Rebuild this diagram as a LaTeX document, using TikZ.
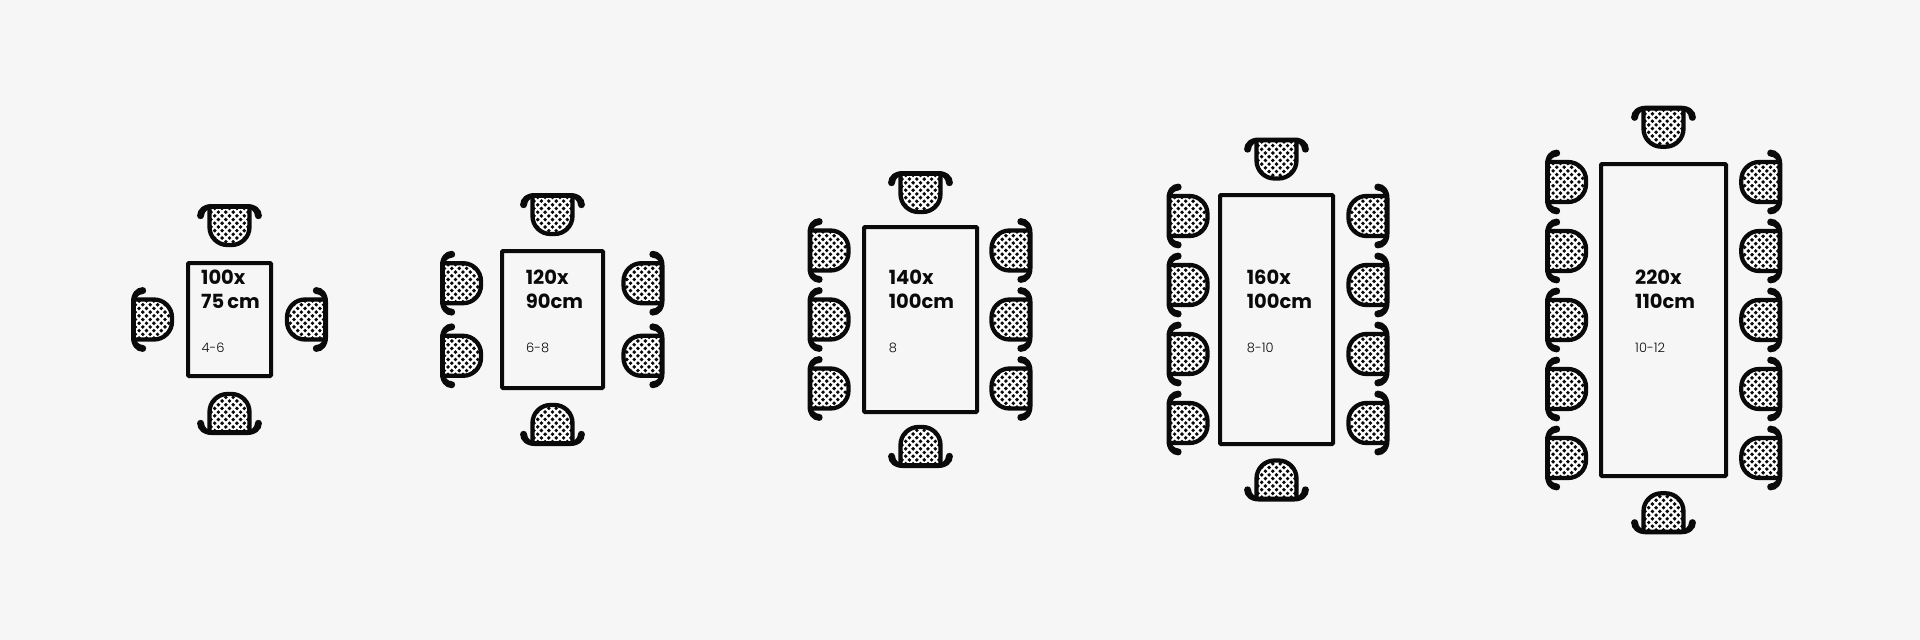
\documentclass[tikz,border=0pt]{standalone}
\usepackage{fontspec}
\setmainfont{Poppins}[WordSpace=0.75]
\newfontfamily\lightface{Poppins Light}
\definecolor{bgc}{HTML}{F6F6F6}
\definecolor{ink}{HTML}{0A0A0A}
\tikzset{
  x=1pt,y=-1pt,
  tablebox/.style={draw=ink,line width=4pt,rounded corners=1pt,inner sep=0pt,outer sep=0pt},
  sizelabel/.style={anchor=base west,inner sep=0pt,text=ink,font=\fontsize{19.5}{19.5}\selectfont\bfseries},
  seatlabel/.style={anchor=base west,inner sep=0pt,text=ink,font=\lightface\fontsize{13}{13}\selectfont},
  chair/.pic={
    \def\seatpath{(-20,2) -- (-20,23) .. controls (-20,33) and (-12,41) .. (-2,41) -- (2,41) .. controls (12,41) and (20,33) .. (20,23) -- (20,2) -- cycle}
    \fill[white] \seatpath;
    \begin{scope}
      \clip \seatpath;
      \foreach \r in {0,...,11}{
        \pgfmathsetmacro\yy{4.4+3.7*\r}
        \pgfmathsetmacro\sh{mod(\r,2)*3.7}
        \foreach \c in {-3,...,3}{
          \fill[ink] ({\c*7.4+\sh},\yy) circle[radius=1.95];
        }
      }
    \end{scope}
    \draw[ink,line width=4.3pt,line join=round] (-20,2) -- (-20,23) .. controls (-20,33) and (-12,41) .. (-2,41) -- (2,41) .. controls (12,41) and (20,33) .. (20,23) -- (20,2);
    \fill[ink] (-18,0) .. controls (-26,0) and (-32.4,5) .. (-32.4,11.8)
       .. controls (-32.4,16.2) and (-25.4,16.2) .. (-25.4,11.8)
       .. controls (-25.4,8) and (-22,4.8) .. (-18,4.8) -- (18,4.8)
       .. controls (22,4.8) and (25.4,8) .. (25.4,11.8)
       .. controls (25.4,16.2) and (32.4,16.2) .. (32.4,11.8)
       .. controls (32.4,5) and (26,0) .. (18,0) -- cycle;
  }
}
\begin{document}
\begin{tikzpicture}
\fill[bgc] (0,0) rectangle (1920,640);
\useasboundingbox (0,0) rectangle (1920,640);

% set 1
\node[tablebox,minimum width=83pt,minimum height=113pt] (t1) at (229.5,319.5) {};
\pic at (229.5,204) {chair};
\pic[rotate=180] at (229.5,435) {chair};
\pic[rotate=90] at (131,319.5) {chair};
\pic[rotate=-90] at (328,319.5) {chair};
\node[sizelabel] (a1) at (201,284.8) {100x};
\node[sizelabel] (b1) at (201,308.5) {75 cm};
\node[seatlabel] (c1) at (201.5,352.8) {4-6};

% set 2
\node[tablebox,minimum width=101pt,minimum height=137pt] (t2) at (552.5,319.5) {};
\pic at (552.5,193) {chair};
\pic[rotate=180] at (552.5,446) {chair};
\foreach \yc in {283.2,355.8}{
  \pic[rotate=90] at (440,\yc) {chair};
  \pic[rotate=-90] at (664.5,\yc) {chair};
}
\node[sizelabel] (a2) at (525.7,284.8) {120x};
\node[sizelabel] (b2) at (525.7,308.5) {90cm};
\node[seatlabel] (c2) at (526,352.8) {6-8};

% set 3
\node[tablebox,minimum width=113pt,minimum height=185pt] (t3) at (920.5,319.5) {};
\pic at (920.5,171) {chair};
\pic[rotate=180] at (920.5,468) {chair};
\foreach \yc in {250.5,319.5,388.5}{
  \pic[rotate=90] at (807.5,\yc) {chair};
  \pic[rotate=-90] at (1032.5,\yc) {chair};
}
\node[sizelabel] (a3) at (888.7,284.8) {140x};
\node[sizelabel] (b3) at (888.7,308.5) {100cm};
\node[seatlabel] (c3) at (888.7,352.8) {8};

% set 4
\node[tablebox,minimum width=113pt,minimum height=249pt] (t4) at (1276.5,319.5) {};
\pic at (1276.5,137.5) {chair};
\pic[rotate=180] at (1276.5,501.5) {chair};
\foreach \yc in {216,285,354,423}{
  \pic[rotate=90] at (1166.5,\yc) {chair};
  \pic[rotate=-90] at (1389.5,\yc) {chair};
}
\node[sizelabel] (a4) at (1246.7,284.8) {160x};
\node[sizelabel] (b4) at (1246.7,308.5) {100cm};
\node[seatlabel] (c4) at (1246.7,352.8) {8-10};

% set 5
\node[tablebox,minimum width=125pt,minimum height=312pt] (t5) at (1663.5,320) {};
\pic at (1663.5,105.7) {chair};
\pic[rotate=180] at (1663.5,534.3) {chair};
\foreach \yc in {182,251,320,389,458}{
  \pic[rotate=90] at (1545,\yc) {chair};
  \pic[rotate=-90] at (1782.3,\yc) {chair};
}
\node[sizelabel] (a5) at (1635,284.8) {220x};
\node[sizelabel] (b5) at (1635,308.8) {110cm};
\node[seatlabel] (c5) at (1635,352.8) {10-12};
\end{tikzpicture}
\end{document}
